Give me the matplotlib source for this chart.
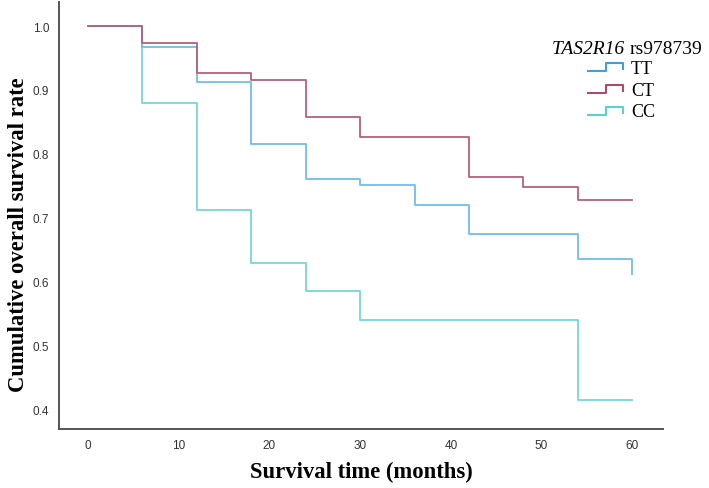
import matplotlib
matplotlib.use("Agg")
import matplotlib.pyplot as plt
from matplotlib.legend_handler import HandlerBase
from matplotlib.lines import Line2D

# Kaplan-Meier curves (months, survival)
tt_time = [0, 6, 12, 18, 24, 30, 36, 42, 54, 60]
tt_surv = [1.0, 0.968, 0.913, 0.815, 0.760, 0.751, 0.720, 0.674, 0.635, 0.612]

ct_time = [0, 6, 12, 18, 24, 30, 42, 48, 54, 60]
ct_surv = [1.0, 0.974, 0.926, 0.916, 0.857, 0.827, 0.763, 0.748, 0.728, 0.728]

cc_time = [0, 6, 12, 18, 24, 30, 54, 60]
cc_surv = [1.0, 0.879, 0.712, 0.629, 0.585, 0.540, 0.414, 0.414]

groups = ['TT', 'CT', 'CC']
colors = {'TT': '#72bde8', 'CT': '#b3607f', 'CC': '#76d6d8'}
legend_colors = {'TT': '#3f9fdc', 'CT': '#a84a72', 'CC': '#5ccfd2'}
xticks = [0, 10, 20, 30, 40, 50, 60]
yticks = [0.4, 0.5, 0.6, 0.7, 0.8, 0.9, 1.0]


class StepHandler(HandlerBase):
    # little step-shaped legend key, like SPSS draws it
    def create_artists(self, legend, orig_handle, xdescent, ydescent,
                       width, height, fontsize, trans):
        x0 = -xdescent
        y0 = -ydescent
        xs = [x0, x0 + 0.5 * width, x0 + 0.5 * width, x0 + width, x0 + width]
        ys = [y0 + 0.1 * height, y0 + 0.1 * height, y0 + 0.75 * height,
              y0 + 0.75 * height, y0 + 0.3 * height]
        line = Line2D(xs, ys, color=orig_handle.get_color(),
                      lw=orig_handle.get_linewidth())
        line.set_transform(trans)
        return [line]


fig = plt.figure(figsize=(7.09, 4.89), dpi=100)
ax = fig.add_axes([0.0832, 0.1207, 0.852, 0.873])

data = {'TT': (tt_time, tt_surv), 'CT': (ct_time, ct_surv), 'CC': (cc_time, cc_surv)}
for g in ['CC', 'TT', 'CT']:
    t, s = data[g]
    ax.step(t, s, where='post', color=colors[g], lw=1.3)

ax.set_xlim(-3.2, 63.4)
ax.set_ylim(0.369, 1.0376)
ax.set_xticks(xticks)
ax.set_xticklabels([str(x) for x in xticks])
ax.set_yticks(yticks)
ax.set_yticklabels([f'{y:.1f}' for y in yticks])
ax.tick_params(length=0, labelsize=8.5, labelcolor='#333333', pad=7)
for lab in ax.get_xticklabels() + ax.get_yticklabels():
    lab.set_family('Liberation Sans')

for side in ['top', 'right']:
    ax.spines[side].set_visible(False)
for side in ['left', 'bottom']:
    ax.spines[side].set_color('#555555')
    ax.spines[side].set_linewidth(1.4)

ax.set_xlabel('Survival time (months)', fontsize=16.3, fontweight='bold',
              family='Liberation Serif', labelpad=7)
ax.set_ylabel('Cumulative overall survival rate', fontsize=16.3, fontweight='bold',
              family='Liberation Serif')
ax.yaxis.set_label_coords(-0.05, 0.457)

handles = [Line2D([0], [0], color=legend_colors[g], lw=1.5) for g in groups]
leg = fig.legend(handles, groups, loc='upper left', bbox_to_anchor=(0.830, 0.876),
                 frameon=False, handler_map={Line2D: StepHandler()},
                 prop={'family': 'Liberation Serif', 'size': 13},
                 handlelength=1.9, handletextpad=0.45, labelspacing=0.27,
                 borderpad=0, borderaxespad=0)

# legend title: gene name in italics, SNP id upright
rs = fig.text(0.990, 0.899, 'rs978739', ha='right', va='center',
              fontsize=14, family='Liberation Serif')
ax.annotate('TAS2R16 ', xy=(0, 0.5), xycoords=rs, ha='right', va='center',
            fontsize=14, family='Liberation Serif', style='italic')

fig.savefig('out.png', dpi=100)
